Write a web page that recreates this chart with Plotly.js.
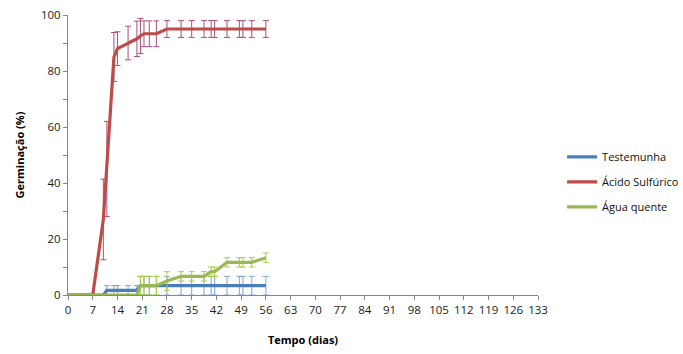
<!DOCTYPE html>
<html>
<head>
<meta charset="utf-8">
<script src="https://cdn.plot.ly/plotly-3.0.1.min.js"></script>
<style>html,body{margin:0;padding:0;background:#fff}#chart{width:683px;height:354px}</style>
</head>
<body>
<div id="chart"></div>
<script>
// Days of observation (x)
var days = [0, 7, 10, 11, 13, 14, 17, 19.5, 20.5, 21.5, 23, 25, 28, 32, 35, 38.5, 40.5, 41.5, 45, 48.5, 49.5, 52, 56];
// Germination (%) per treatment
var testemunha = [0, 0, 0, 1.67, 1.67, 1.67, 1.67, 1.67, 3.33, 3.33, 3.33, 3.33, 3.33, 3.33, 3.33, 3.33, 3.33, 3.33, 3.33, 3.33, 3.33, 3.33, 3.33];
var testemunhaErr = [0, 0, 0, 1.67, 1.67, 1.67, 1.67, 1.67, 3.33, 3.33, 3.33, 3.33, 3.33, 3.33, 3.33, 3.33, 3.33, 3.33, 3.33, 3.33, 3.33, 3.33, 3.33];
var acido = [0, 0, 27, 45, 85, 88, 90, 91.5, 92.5, 93.3, 93.3, 93.3, 95, 95, 95, 95, 95, 95, 95, 95, 95, 95, 95];
var acidoErr = [0, 0, 14.4, 17, 8.75, 6, 6, 6.3, 6.3, 4.6, 4.6, 4.6, 3, 3, 3, 3, 3, 3, 3, 3, 3, 3, 3];
var agua = [0, 0, 0, 0, 0, 0, 0, 0, 3.33, 3.33, 3.33, 3.33, 5, 6.67, 6.67, 6.67, 8.33, 8.33, 11.67, 11.67, 11.67, 11.67, 13.33];
var aguaErr = [0, 0, 0, 0, 0, 0, 0, 0, 3.33, 3.33, 3.33, 3.33, 3.33, 1.67, 1.67, 1.67, 1.67, 1.67, 1.67, 1.67, 1.67, 1.67, 1.67];
var names = ['Testemunha', 'Ácido Sulfúrico', 'Água quente'];
var xTicks = [0, 7, 14, 21, 28, 35, 42, 49, 56, 63, 70, 77, 84, 91, 98, 105, 112, 119, 126, 133];

var FONT = 'Open Sans, Noto Sans, sans-serif';
function mk(y, err, name, lineColor, barColor, grp) {
  return {
    x: days, y: y, name: name, type: 'scatter', mode: 'lines',
    legendgroup: grp,
    line: {color: lineColor, width: 3.2},
    error_y: {type: 'data', array: err, visible: true, color: barColor, thickness: 1, width: 3},
    hoverinfo: 'skip'
  };
}
var traces = [
  mk(testemunha, testemunhaErr, names[0], '#4A7EBB', '#7FA6D6', 'a'),
  mk(acido, acidoErr, names[1], '#BE4B48', '#A8507F', 'b'),
  mk(agua, aguaErr, names[2], '#98B954', '#A9D13C', 'c')
];
var layout = {
  width: 683, height: 354,
  margin: {l: 68, r: 145, t: 15, b: 59, autoexpand: false},
  paper_bgcolor: '#fff', plot_bgcolor: '#fff',
  font: {family: FONT, size: 11, color: '#111'},
  showlegend: true,
  legend: {xref: 'container', x: 0.823, xanchor: 'left', y: 0.404, yanchor: 'middle', tracegroupgap: 6,
           traceorder: 'grouped', font: {family: FONT, size: 11, color: '#111'}, bgcolor: 'rgba(0,0,0,0)'},
  xaxis: {
    range: [0, 133], tickmode: 'array', tickvals: xTicks, ticktext: xTicks.map(String),
    showgrid: false, zeroline: false, showline: true, linecolor: '#868686', linewidth: 1,
    ticks: 'outside', ticklen: 4, tickcolor: '#868686',
    tickfont: {family: FONT, size: 11.5, color: '#222'},
    title: {text: 'Tempo (dias)', font: {family: FONT, size: 11, color: '#000', weight: 'bold'}, standoff: 20}
  },
  yaxis: {
    range: [0, 100], dtick: 20, showgrid: false, zeroline: false, showline: true,
    linecolor: '#868686', linewidth: 1, ticks: 'outside', ticklen: 4, tickcolor: '#868686',
    minor: {dtick: 10, ticks: 'outside', ticklen: 4, tickcolor: '#868686', showgrid: false},
    tickfont: {family: FONT, size: 11.5, color: '#222'},
    title: {text: 'Germinação (%)', font: {family: FONT, size: 11, color: '#000', weight: 'bold'}, standoff: 14}
  }
};
Plotly.newPlot('chart', traces, layout, {displayModeBar: false, staticPlot: true});
</script>
</body>
</html>
